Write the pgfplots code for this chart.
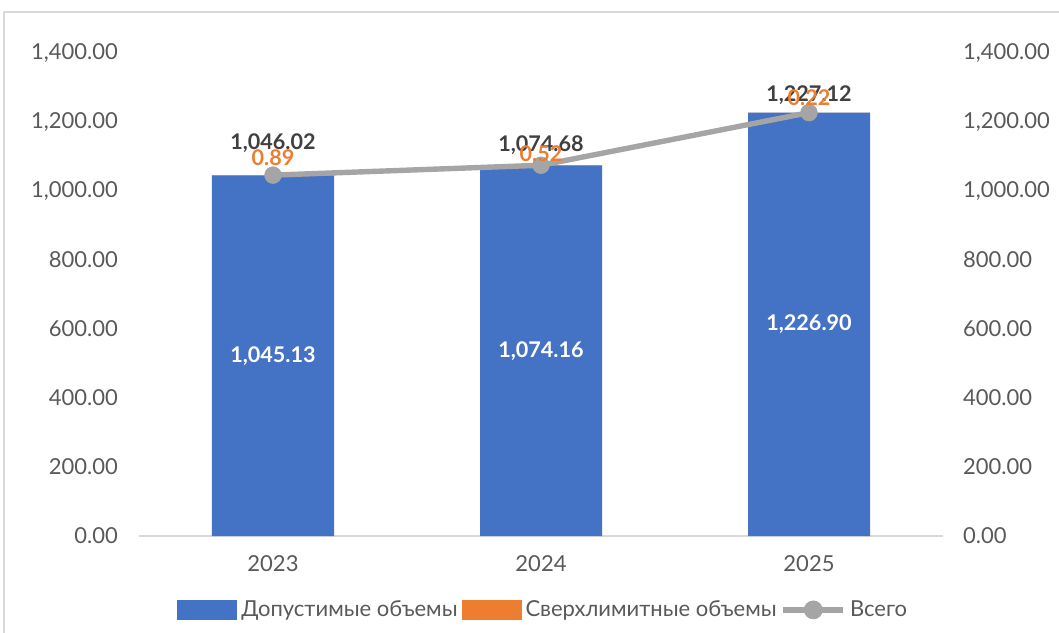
\documentclass[border=0pt]{standalone}
\usepackage{pgfplots}
\pgfplotsset{compat=1.18}
\usepackage{pgfplotstable}
\usepackage{fontspec}
\setmainfont{Lato}

\definecolor{cblue}{HTML}{4472C4}
\definecolor{corange}{HTML}{ED7D31}
\definecolor{cgray}{HTML}{A5A5A5}
\definecolor{ctext}{HTML}{595959}
\definecolor{clab}{HTML}{404040}
\definecolor{cframe}{HTML}{D9D9D9}

% dyt, dyo: label offsets above the point (pt)
\pgfplotstableread{
x year blue orange total dyt dyo
0 2023 1045.13 0.89 1046.02 16 8.5
1 2024 1074.16 0.52 1074.68 10 6
2 2025 1226.90 0.22 1227.12 8.8 7.3
}\datatable

\pgfplotsset{
  common/.style={
    at={(0,0)}, anchor=south west, scale only axis,
    width=402pt, height=241.5pt,
    xmin=-0.5, xmax=2.5, ymin=0, ymax=1400,
    ytick={0,200,...,1400},
    scaled y ticks=false,
    major tick length=0pt,
    tick style={draw=none},
    yticklabel style={/pgf/number format/fixed, /pgf/number format/fixed zerofill,
      /pgf/number format/precision=2, /pgf/number format/1000 sep={,},
      /pgf/number format/assume math mode=true},
    every tick label/.append style={font=\fontsize{11}{13}\selectfont, text=ctext},
  },
  numlab/.style={nodes near coords={\pgfmathprintnumber[fixed, fixed zerofill,
      precision=2, 1000 sep={,}, assume math mode=true]{\pgfplotspointmeta}},
    point meta=explicit},
  totleg/.style={legend image code/.code={
    \draw[cgray, line width=2.7pt] (0pt,0pt) -- (30pt,0pt);
    \fill[cgray] (15pt,0pt) circle (4.5pt);}},
  barleg/.style={legend image code/.code={\fill[##1] (0pt,-5pt) rectangle (30pt,5pt);}},
}

\begin{document}
\begin{tikzpicture}
\useasboundingbox (-69.5pt,-48pt) rectangle (460pt,268pt);
\begin{scope}
\clip (-69.5pt,-48pt) rectangle (460pt,268pt);
\draw[cframe, line width=1pt] (-67.5pt,-60pt) rectangle (470pt,262pt);
\end{scope}

\begin{axis}[common,
  ybar stacked, bar width=61pt,
  axis x line*=bottom, axis y line*=left,
  x axis line style={draw=cframe, line width=0.8pt},
  y axis line style={draw=none},
  xtick={0,1,2}, xticklabels={2023,2024,2025},
  xticklabel style={yshift=-6pt},
  yticklabel style={xshift=-7pt},
  legend columns=3,
  legend style={at={(0.504,-0.153)}, anchor=center, draw=none, fill=none,
    font=\fontsize{11}{13}\selectfont, text=ctext,
    /tikz/every even column/.append style={column sep=0pt},
    /tikz/every odd column/.append style={column sep=0pt}},
  legend cell align=left,
]
\addplot[fill=cblue, draw=none, barleg]
  table[x=x, y=blue]{\datatable};
\addlegendentry{Допустимые объемы}
\addplot[fill=corange, draw=none, barleg]
  table[x=x, y=orange]{\datatable};
\addlegendentry{Сверхлимитные объемы}
\addlegendimage{cgray, totleg}
\addlegendentry{Всего}
\end{axis}

\begin{axis}[common,
  axis x line=none, axis y line*=right,
  y axis line style={draw=none},
  yticklabel style={xshift=6.5pt},
  clip=false,
]
% total line with labels
\addplot[cgray, line width=2.7pt, mark=*, mark size=4.2pt,
  mark options={line width=0.3pt},
  numlab,
  visualization depends on={\thisrow{dyt} \as \labdy},
  every node near coord/.append style={anchor=center, yshift=\labdy pt,
    text=clab, font=\bfseries\fontsize{10.8}{12}\selectfont}]
  table[x=x, y=total, meta=total]{\datatable};
% orange segment labels
\addplot[draw=none, mark=none, numlab,
  visualization depends on={\thisrow{dyo} \as \labdy},
  every node near coord/.append style={anchor=center, yshift=\labdy pt,
    text=corange, font=\bfseries\fontsize{10.8}{12}\selectfont}]
  table[x=x, y=total, meta=orange]{\datatable};
% blue segment labels
\addplot[draw=none, mark=none, numlab,
  every node near coord/.append style={anchor=center,
    text=white, font=\bfseries\fontsize{10.8}{12}\selectfont}]
  table[x=x, y expr=\thisrow{blue}/2, meta=blue]{\datatable};
\end{axis}
\end{tikzpicture}
\end{document}
